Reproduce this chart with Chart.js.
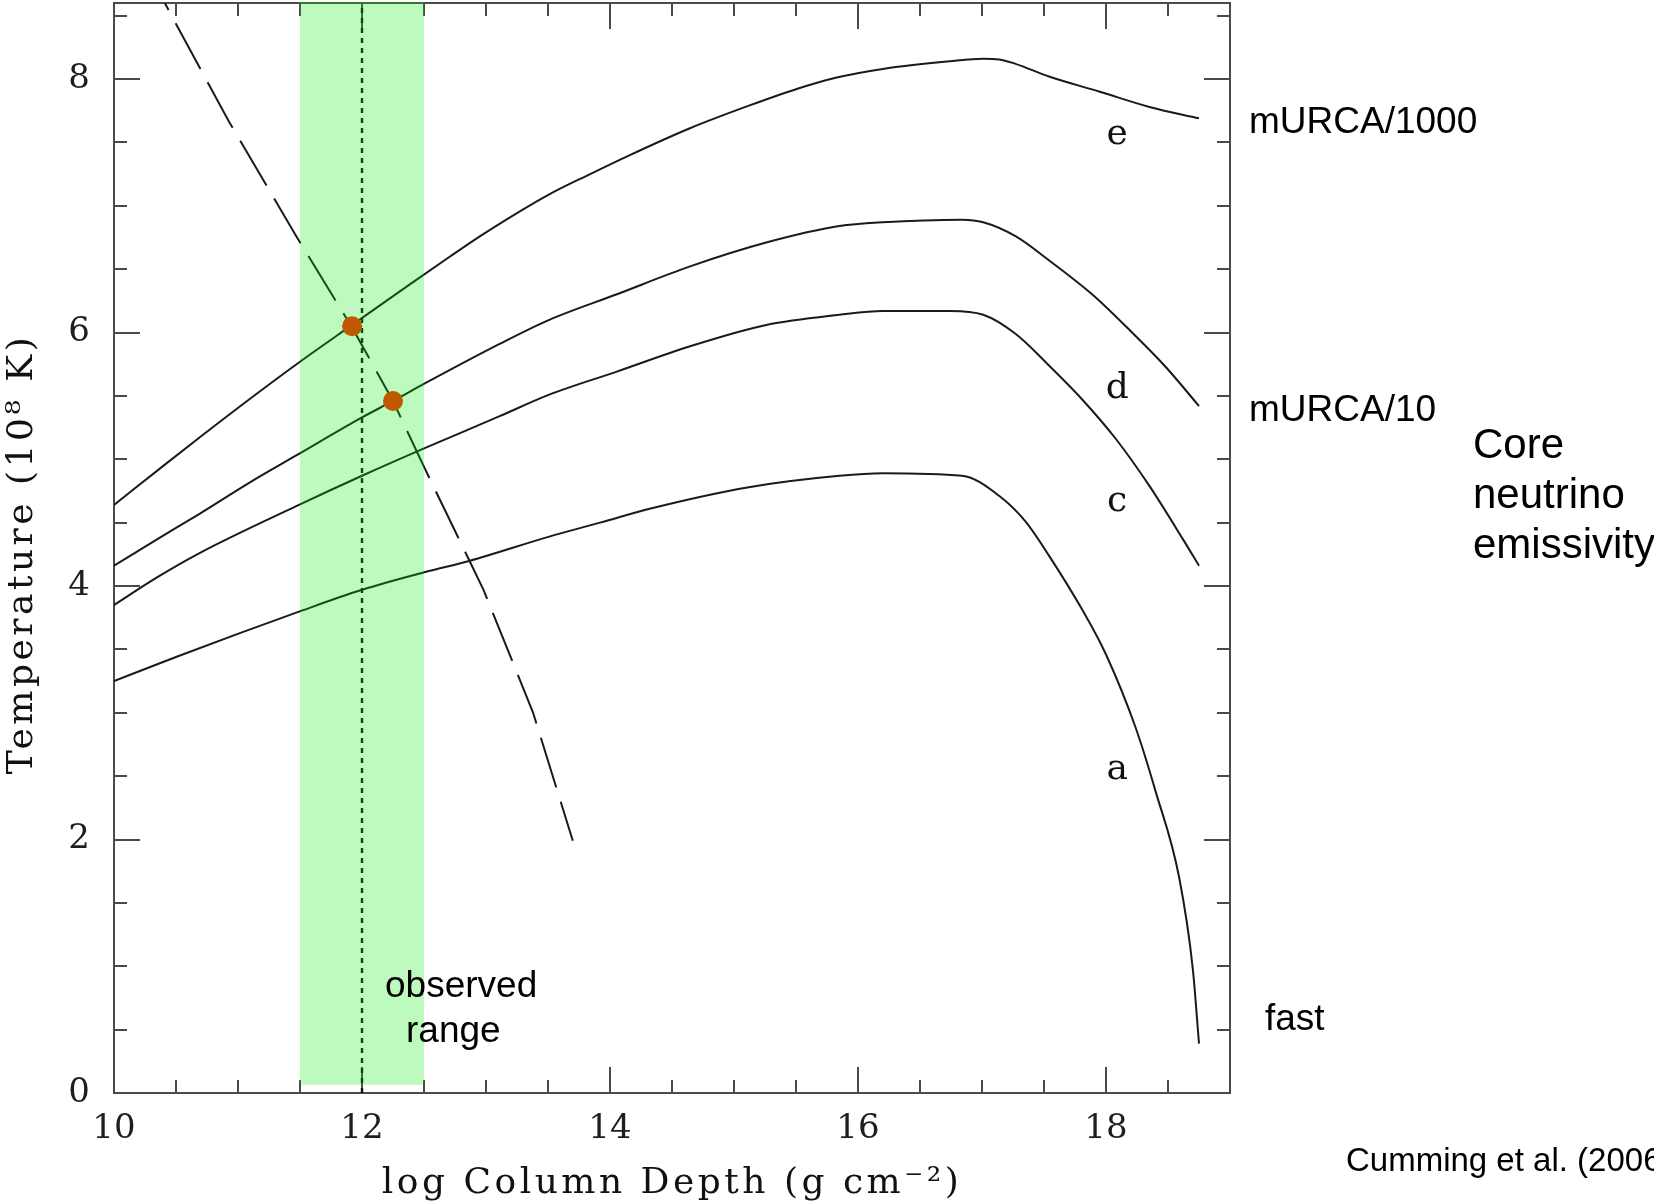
<!DOCTYPE html>
<html>
<head>
<meta charset="utf-8">
<script src="https://cdn.jsdelivr.net/npm/chart.js@4.4.1/dist/chart.umd.min.js"></script>
<style>
  html, body { margin: 0; padding: 0; background: #ffffff; overflow: hidden; }
  #wrap { position: relative; width: 1654px; height: 1202px; }
  canvas { display: block; }
</style>
</head>
<body>
<div id="wrap"><canvas id="chart" width="1654" height="1202"></canvas></div>
<script>
// Crust temperature profiles: log column depth (g cm^-2) vs temperature (10^8 K)
const depthE = [10.0, 10.4, 10.7, 11.1, 11.5, 11.92, 12.4, 12.71, 13.0, 13.51, 13.84, 14.16, 14.64, 15.12, 15.5, 15.82, 16.2, 16.74, 17.01, 17.14, 17.27, 17.54, 17.95, 18.35, 18.75];
const tempE  = [4.64, 4.95, 5.18, 5.48, 5.77, 6.06, 6.39, 6.60, 6.79, 7.09, 7.25, 7.40, 7.61, 7.79, 7.92, 8.01, 8.08, 8.14, 8.16, 8.155, 8.12, 8.02, 7.90, 7.78, 7.69];

const depthD = [10.0, 10.35, 10.69, 11.1, 11.47, 12.0, 12.25, 12.51, 13.11, 13.51, 14.05, 14.64, 15.26, 15.85, 16.2, 16.84, 17.01, 17.27, 17.54, 17.89, 18.21, 18.48, 18.75];
const tempD  = [4.16, 4.37, 4.57, 4.82, 5.03, 5.33, 5.46, 5.60, 5.91, 6.10, 6.30, 6.52, 6.71, 6.84, 6.87, 6.89, 6.87, 6.76, 6.57, 6.30, 6.00, 5.73, 5.42];

const depthC = [10.0, 10.35, 10.69, 11.47, 12.0, 12.51, 13.11, 13.51, 14.05, 14.64, 15.26, 15.85, 16.2, 16.74, 17.01, 17.27, 17.54, 17.81, 18.08, 18.35, 18.62, 18.75];
const tempC  = [3.85, 4.07, 4.26, 4.63, 4.87, 5.09, 5.34, 5.51, 5.69, 5.89, 6.06, 6.14, 6.17, 6.17, 6.14, 5.99, 5.74, 5.47, 5.16, 4.79, 4.37, 4.16];

const depthA = [10.0, 10.5, 11.02, 11.47, 12.0, 12.51, 12.87, 13.51, 13.92, 14.32, 15.12, 15.85, 16.2, 16.84, 17.14, 17.35, 17.54, 17.81, 18.0, 18.24, 18.40, 18.59, 18.70, 18.75];
const tempA  = [3.25, 3.44, 3.63, 3.79, 3.97, 4.11, 4.20, 4.39, 4.50, 4.61, 4.78, 4.87, 4.89, 4.87, 4.71, 4.51, 4.24, 3.81, 3.46, 2.88, 2.38, 1.70, 0.98, 0.39];

// Long-dashed curve crossing the profiles
const dashDepth = [10.41, 10.48, 10.93, 11.47, 11.92, 12.25, 12.51, 12.98, 13.38, 13.70];
const dashTemp  = [8.60, 8.47, 7.66, 6.76, 6.04, 5.46, 4.92, 3.97, 3.00, 1.99];

// Intersection markers
const markerDepth = [11.92, 12.25];
const markerTemp  = [6.05, 5.46];

// Observed depth range and its centre
const observedRange = [11.5, 12.5];
const observedFloor = 0.065;
const observedCentre = 12;

// Axis ticks
const xTickLabels = [10, 12, 14, 16, 18];
const yTickLabels = [0, 2, 4, 6, 8];
const xMinorStep = 0.5;
const yMinorStep = 0.5;

// Curve tags
const curveTags = ['e', 'd', 'c', 'a'];
const curveTagDepth = [18.09, 18.09, 18.09, 18.09];
const curveTagTemp = [7.49, 5.485, 4.59, 2.48];

const toPoints = (xs, ys) => xs.map((x, i) => ({ x: x, y: ys[i] }));

const LINE = '#1a1a1a';
const FRAME = '#4a4a4a';
const SERIF = '"DejaVu Serif", serif';
const SANS = '"Liberation Sans", Arial, sans-serif';

function curve(label, xs, ys, extra) {
  return Object.assign({
    label: label,
    type: 'scatter',
    data: toPoints(xs, ys),
    showLine: true,
    borderColor: LINE,
    borderWidth: 2,
    pointRadius: 0,
    cubicInterpolationMode: 'monotone',
    fill: false,
    order: 2
  }, extra || {});
}

const datasets = [
  {
    label: 'markers',
    type: 'scatter',
    data: toPoints(markerDepth, markerTemp),
    pointRadius: 10,
    pointHoverRadius: 10,
    backgroundColor: '#c05800',
    borderWidth: 0,
    showLine: false,
    order: 0
  },
  curve('centre', [observedCentre, observedCentre], [0, 8.6], {
    borderDash: [5, 5], borderWidth: 2.4, borderColor: '#111111', cubicInterpolationMode: 'default', order: 1
  }),
  curve('e', depthE, tempE),
  curve('d', depthD, tempD),
  curve('c', depthC, tempC),
  curve('a', depthA, tempA),
  curve('dashed', dashDepth, dashTemp, { borderDash: [52, 15], borderDashOffset: 44, cubicInterpolationMode: 'default' })
];

// Frame and inward tick marks on all four sides
const framePlugin = {
  id: 'frame',
  beforeDatasetsDraw(chart) {
    const { ctx, chartArea: a, scales: { x, y } } = chart;
    ctx.save();
    ctx.strokeStyle = FRAME;
    ctx.lineWidth = 2;
    ctx.strokeRect(a.left, a.top, a.right - a.left, a.bottom - a.top);
    ctx.beginPath();
    for (let v = x.min; v <= x.max + 1e-9; v += xMinorStep) {
      const p = Math.round(x.getPixelForValue(v));
      const len = xTickLabels.includes(Math.round(v * 100) / 100) ? 26 : 13;
      ctx.moveTo(p, a.bottom); ctx.lineTo(p, a.bottom - len);
      ctx.moveTo(p, a.top); ctx.lineTo(p, a.top + len);
    }
    for (let v = y.min; v <= y.max + 1e-9; v += yMinorStep) {
      const p = Math.round(y.getPixelForValue(v));
      const len = yTickLabels.includes(Math.round(v * 100) / 100) ? 26 : 13;
      ctx.moveTo(a.left, p); ctx.lineTo(a.left + len, p);
      ctx.moveTo(a.right, p); ctx.lineTo(a.right - len, p);
    }
    ctx.stroke();
    ctx.restore();
  },
  // translucent green band laid over the lines, under the markers
  afterDatasetDraw(chart, args) {
    if (chart.data.datasets[args.index].label !== 'centre') return;
    const { ctx, chartArea: a, scales: { x, y } } = chart;
    const x0 = x.getPixelForValue(observedRange[0]);
    const x1 = x.getPixelForValue(observedRange[1]);
    const yb = y.getPixelForValue(observedFloor);
    ctx.save();
    ctx.fillStyle = 'rgba(0, 235, 0, 0.255)';
    ctx.fillRect(x0, a.top - 1, x1 - x0, yb - a.top + 1);
    ctx.restore();
  },
  afterDraw(chart) {
    const { ctx, chartArea: a, scales: { x, y } } = chart;
    ctx.save();
    ctx.fillStyle = '#111111';
    ctx.textBaseline = 'alphabetic';

    // axis titles
    ctx.font = '36px ' + SERIF;
    ctx.textAlign = 'center';
    if ('letterSpacing' in ctx) ctx.letterSpacing = '3.5px';
    ctx.fillText('log Column Depth (g cm\u207B\u00B2)', (a.left + a.right) / 2, 1193);
    ctx.save();
    ctx.translate(32, (a.top + a.bottom) / 2 + 6);
    ctx.rotate(-Math.PI / 2);
    ctx.fillText('Temperature (10\u2078 K)', 0, 0);
    ctx.restore();
    if ('letterSpacing' in ctx) ctx.letterSpacing = '0px';

    // curve tags
    ctx.font = '36px ' + SERIF;
    curveTags.forEach((t, i) => {
      ctx.fillText(t, x.getPixelForValue(curveTagDepth[i]), y.getPixelForValue(curveTagTemp[i]));
    });

    // annotations
    ctx.fillStyle = '#000000';
    ctx.textAlign = 'left';
    ctx.font = '37px ' + SANS;
    ctx.fillText('mURCA/1000', 1249, 133);
    ctx.fillText('mURCA/10', 1249, 421);
    ctx.fillText('fast', 1265, 1030);
    ctx.fillText('observed', 385, 997);
    ctx.fillText('range', 406, 1042);
    ctx.font = '42px ' + SANS;
    ctx.fillText('Core', 1473, 458);
    ctx.fillText('neutrino', 1473, 508);
    ctx.fillText('emissivity', 1473, 558);
    ctx.font = '33px ' + SANS;
    ctx.fillText('Cumming et al. (2006)', 1346, 1171);
    ctx.restore();
  }
};

const noEdgePadding = (s) => {
  s.paddingTop = 0; s.paddingBottom = 0; s.paddingLeft = 0; s.paddingRight = 0;
};

new Chart(document.getElementById('chart'), {
  type: 'scatter',
  data: { datasets: datasets },
  options: {
    responsive: false,
    animation: false,
    devicePixelRatio: 1,
    layout: { autoPadding: false, padding: { left: 0, right: 424, top: 3, bottom: 0 } },
    plugins: { legend: { display: false }, tooltip: { enabled: false } },
    events: [],
    scales: {
      x: {
        type: 'linear',
        min: 10,
        max: 19,
        afterFit: (s) => { s.height = 109; noEdgePadding(s); },
        afterBuildTicks: (s) => { s.ticks = xTickLabels.map(v => ({ value: v })); },
        grid: { display: false, drawTicks: false },
        border: { display: false },
        ticks: {
          autoSkip: false,
          maxRotation: 0,
          padding: 16,
          color: '#1e1e1e',
          font: { family: SERIF, size: 34 },
          callback: (v) => String(v)
        }
      },
      y: {
        type: 'linear',
        min: 0,
        max: 8.6,
        afterFit: (s) => { s.width = 114; noEdgePadding(s); },
        afterBuildTicks: (s) => { s.ticks = yTickLabels.map(v => ({ value: v })); },
        grid: { display: false, drawTicks: false },
        border: { display: false },
        ticks: {
          autoSkip: false,
          padding: 24,
          color: '#1e1e1e',
          font: { family: SERIF, size: 34 },
          callback: (v) => String(v)
        }
      }
    }
  },
  plugins: [framePlugin]
});
</script>
</body>
</html>
